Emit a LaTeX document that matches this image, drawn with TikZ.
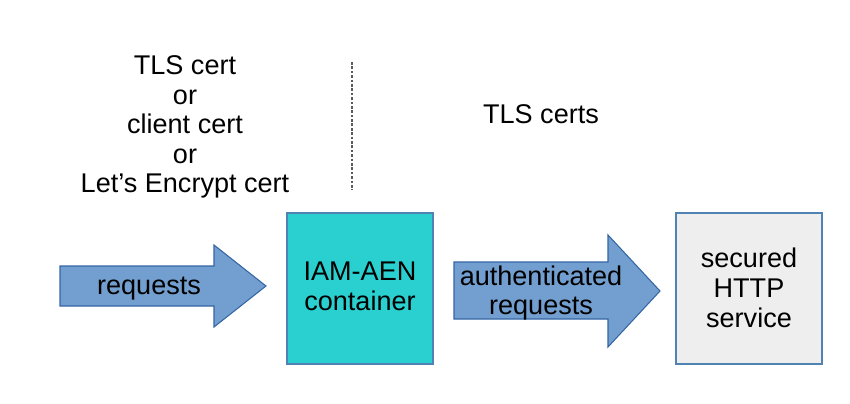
\documentclass[tikz,border=0pt]{standalone}
\usepackage{fontspec}
\setmainfont{Liberation Sans}
\usetikzlibrary{positioning}
\definecolor{AenBlue}{RGB}{114,159,207}
\definecolor{AenNavy}{RGB}{52,101,164}
\definecolor{AenTeal}{RGB}{42,208,208}
\definecolor{AenEdge}{RGB}{80,130,180}
\definecolor{AenLight}{RGB}{238,238,238}
\definecolor{AenGray}{RGB}{90,90,90}
\tikzset{
  aen/arrowshape/.style={
    fill=AenBlue,
    draw=AenNavy,
    line width=0.6pt
  },
  aen/box/.style={
    draw=AenEdge,
    line width=0.6pt
  },
  aen/label/.style={
    font=\fontsize{15.4}{17}\selectfont,
    align=center,
    inner sep=0pt,
    text=black
  },
  aen/divider/.style={draw=AenGray, line width=0.8pt, dash pattern=on 1.5pt off 1pt}
}

\begin{document}
\begin{tikzpicture}[x=0.02cm,y=-0.02cm]
  \useasboundingbox (0,0) rectangle (850,403);
  % incoming requests
  \draw[aen/arrowshape] (60,266) -- (214,266) -- (214,245) -- (266,286)
    -- (214,327) -- (214,306) -- (60,306) -- cycle;
  \node[aen/label] (req) at (149,289) {requests};
  % container
  \draw[aen/box, fill=AenTeal] (287,213) rectangle (433,364);
  \node[aen/label] (iam) at (360,286) {IAM-AEN\\container};
  % authenticated requests
  \draw[aen/arrowshape] (454,262) -- (608,262) -- (608,235) -- (660,291)
    -- (608,347) -- (608,319) -- (454,319) -- cycle;
  \node[aen/label] (auth) at (541,293) {authenticated\\requests};
  % backend service
  \draw[aen/box, fill=AenLight] (676,213) rectangle (822,364);
  \node[aen/label] (svc) at (749,288) {secured\\HTTP\\service};
  % certificates
  \node[aen/label, font=\fontsize{15.4}{16.8}\selectfont] (incert) at (185,127)
    {TLS cert\\or\\client cert\\or\\Let’s Encrypt cert};
  \node[aen/label] (outcert) at (541,114) {TLS certs};
  \coordinate (divtop) at (352,62);
  \coordinate (divbot) at (352,190);
  \draw[aen/divider] (divtop) -- (divbot);
\end{tikzpicture}
\end{document}
